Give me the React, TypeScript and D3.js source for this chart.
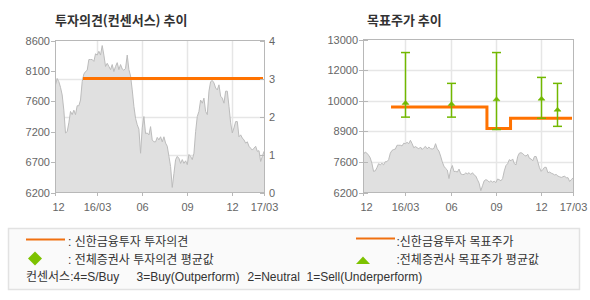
import React from 'react';
import * as d3 from 'd3';

// ---------- DATA ----------
const prices = [
  7900, 8000, 7950, 7860, 7740, 7500, 7140, 7160, 7300, 7480,
  7430, 7500, 7430, 7570, 7570, 7660, 7950, 8070, 8110, 8130,
  8300, 8300, 8300, 8270, 8390, 8370, 8430, 8370, 8520, 8370,
  8190, 8240, 8190, 8140, 8220, 8110, 8190, 8250, 8140, 8220,
  8150, 8130, 8160, 8370, 8140, 8040, 7820, 7560, 7370, 7270,
  7200, 6820, 7220, 7400, 7130, 7140, 7110, 7240, 7030, 7000,
  7000, 7070, 7030, 7080, 7000, 7080, 6980, 6930, 6770, 6610,
  6280, 6500, 6720, 6770, 6740, 6660, 6720, 6660, 6700, 6640,
  6800, 6770, 6720, 6820, 7160, 7400, 7480, 7660, 7610, 7690,
  7480, 7430, 7800, 7950, 7970, 7930, 7850, 7820, 7900, 7720,
  7690, 7610, 7800, 7800, 7560, 7300, 7140, 7220, 7320, 7320,
  7080, 7110, 7060, 7030, 6980, 7000, 6930, 6900, 6870, 6900,
  6930, 6850, 6860, 6690, 6770, 6850,
];
const periodStart = '2015-12-06';
const periodEnd = '2017-02-05';

const xTickDates = ['2015-12-06', '2016-03-01', '2016-06-01', '2016-09-01', '2016-12-01', '2017-02-05'];
const xTickLabels = ['12', '16/03', '06', '09', '12', '17/03'];

const leftPriceTicks = [6200, 6680, 7160, 7640, 8120, 8600];
const leftPriceLabels = ['6200', '6700', '7200', '7600', '8100', '8600'];
const opinionTicks = [0, 1, 2, 3, 4];

const targetPriceTicks = [6200, 7560, 8920, 10280, 11640, 13000];
const targetPriceLabels = ['6200', '7600', '8900', '10000', '12000', '13000'];

// Shinhan consensus opinion
const opinionDates = ['2016-02-01', '2017-02-03'];
const opinionValues = [3];

// Shinhan target price (step line)
const targetDates = ['2016-02-01', '2016-08-14', '2016-10-01', '2017-02-03'];
const targetValues = [10000, 9050, 9500];

// All brokers target price: high / low / average
const consDates = ['2016-03-01', '2016-06-01', '2016-09-01', '2016-12-01', '2017-01-03'];
const consHigh = [12420, 11050, 12420, 11315, 11050];
const consLow = [9550, 9550, 9000, 9500, 9140];
const consAvg = [10180, 10130, 10340, 10370, 9880];

// ---------- STYLE ----------
const NUM_FONT = '"Liberation Sans", Arial, sans-serif';
const KR_FONT = '"Noto Sans CJK KR", "Liberation Sans", sans-serif';
const MIX_FONT = '"Liberation Sans", "Noto Sans CJK KR", sans-serif';
const ORANGE = '#ff7200';
const GREEN = '#72b800';
const GRID = '#e6e6e6';
const FRAME = '#b8b8b8';
const TICKTXT = '#666666';

const parse = d3.timeParse('%Y-%m-%d');

type Box = { x0: number; x1: number; y0: number; y1: number };

function PriceArea({ box, y }: { box: Box; y: d3.ScaleLinear<number, number> }) {
  const xi = d3.scaleLinear().domain([0, prices.length - 1]).range([box.x0 + 0.5, box.x1 - 1]);
  const area = d3.area<number>().x((_, i) => xi(i)).y0(box.y1).y1((d) => y(d));
  const line = d3.line<number>().x((_, i) => xi(i)).y((d) => y(d));
  return (
    <g>
      <path d={area(prices) || ''} fill="#e0e0e0" />
      <path d={line(prices) || ''} fill="none" stroke="#bcbcbc" strokeWidth={1} />
    </g>
  );
}

function Frame({ box, x, gridY, title, titleX }: { box: Box; x: d3.ScaleTime<number, number>; gridY: number[]; title: string; titleX: number }) {
  return (
    <g>
      <rect x={box.x0} y={box.y0} width={box.x1 - box.x0} height={box.y1 - box.y0} fill="#ffffff" />
      {gridY.map((gy, i) => (
        <line key={'gy' + i} x1={box.x0} x2={box.x1} y1={Math.round(gy) + 0.5} y2={Math.round(gy) + 0.5} stroke={GRID} strokeWidth={1.5} />
      ))}
      {xTickDates.slice(1, -1).map((d, i) => {
        const px = Math.round(x(parse(d)!)) + 0.5;
        return <line key={'gx' + i} x1={px} x2={px} y1={box.y0} y2={box.y1} stroke={GRID} strokeWidth={1.5} />;
      })}
      <text x={titleX} y={25} fontFamily={KR_FONT} fontSize={13} fontWeight="bold" fill="#333333">{title}</text>
    </g>
  );
}

function Border({ box, x }: { box: Box; x: d3.ScaleTime<number, number> }) {
  return (
    <g>
      <rect x={box.x0 + 0.5} y={box.y0 + 0.5} width={box.x1 - box.x0 - 1} height={box.y1 - box.y0 - 1} fill="none" stroke={FRAME} strokeWidth={1} />
      {xTickDates.map((d, i) => {
        const px = Math.round(x(parse(d)!)) + 0.5;
        const lx = i === 0 ? px + 3 : px;
        return (
          <g key={'xt' + i}>
            <line x1={px} x2={px} y1={box.y1} y2={box.y1 + 3} stroke={FRAME} />
            <text x={lx} y={box.y1 + 18} textAnchor="middle" fontFamily={NUM_FONT} fontSize={11} fill={TICKTXT}>{xTickLabels[i]}</text>
          </g>
        );
      })}
    </g>
  );
}

function LeftChart() {
  const box: Box = { x0: 55, x1: 265, y0: 40, y1: 193 };
  const x = d3.scaleTime().domain([parse(periodStart)!, parse(periodEnd)!]).range([box.x0, box.x1 - 1]);
  const yP = d3.scaleLinear().domain([6200, 8600]).range([box.y1 - 0.5, box.y0 + 0.5]);
  const yO = d3.scaleLinear().domain([0, 4]).range([box.y1 - 0.5, box.y0 + 0.5]);
  const gridY = opinionTicks.slice(1, -1).map((t) => yO(t));
  return (
    <g>
      <Frame box={box} x={x} gridY={gridY} title="투자의견(컨센서스) 추이" titleX={55} />
      <PriceArea box={box} y={yP} />
      {opinionValues.map((v, i) => (
        <line key={'op' + i} x1={x(parse(opinionDates[i])!)} x2={x(parse(opinionDates[i + 1])!)} y1={yO(v)} y2={yO(v)} stroke={ORANGE} strokeWidth={3} />
      ))}
      <Border box={box} x={x} />
      {leftPriceTicks.map((t, i) => (
        <g key={'lt' + i}>
          <line x1={box.x0 - 4} x2={box.x0} y1={Math.round(yP(t)) + 0.5} y2={Math.round(yP(t)) + 0.5} stroke={FRAME} />
          <text x={box.x0 - 5} y={yP(t) + 4} textAnchor="end" fontFamily={NUM_FONT} fontSize={11} fill={TICKTXT}>{leftPriceLabels[i]}</text>
        </g>
      ))}
      {opinionTicks.map((t, i) => (
        <g key={'rt' + i}>
          <line x1={box.x1 - 5} x2={box.x1} y1={Math.round(yO(t)) + 0.5} y2={Math.round(yO(t)) + 0.5} stroke={FRAME} />
          <text x={box.x1 + 4} y={yO(t) + 4} textAnchor="start" fontFamily={NUM_FONT} fontSize={11} fill={TICKTXT}>{t}</text>
        </g>
      ))}
    </g>
  );
}

function RightChart() {
  const box: Box = { x0: 363, x1: 574, y0: 39, y1: 193 };
  const x = d3.scaleTime().domain([parse(periodStart)!, parse(periodEnd)!]).range([box.x0, box.x1 - 1]);
  const y = d3.scaleLinear().domain([6200, 13000]).range([box.y1 - 0.5, box.y0 + 0.5]);
  const gridY = targetPriceTicks.slice(1, -1).map((t) => y(t));
  const stepPts: [number, number][] = [];
  targetValues.forEach((v, i) => {
    stepPts.push([x(parse(targetDates[i])!), y(v)]);
    stepPts.push([x(parse(targetDates[i + 1])!), y(v)]);
  });
  const stepLine = d3.line();
  return (
    <g>
      <Frame box={box} x={x} gridY={gridY} title="목표주가 추이" titleX={367} />
      <PriceArea box={box} y={y} />
      <path d={stepLine(stepPts) || ''} fill="none" stroke={ORANGE} strokeWidth={3} strokeLinejoin="miter" />
      {consDates.map((d, i) => {
        const cx = Math.round(x(parse(d)!)) + 0.5;
        const yh = y(consHigh[i]);
        const yl = y(consLow[i]);
        const ya = y(consAvg[i]);
        return (
          <g key={'cb' + i} stroke={GREEN} strokeWidth={1.5}>
            <line x1={cx} x2={cx} y1={yh} y2={yl} />
            <line x1={cx - 4.5} x2={cx + 4.5} y1={yh} y2={yh} />
            <line x1={cx - 4.5} x2={cx + 4.5} y1={yl} y2={yl} />
            <path d={`M${cx - 3.5},${ya + 1.5}L${cx},${ya - 2.5}L${cx + 3.5},${ya + 1.5}Z`} fill={GREEN} strokeWidth={0.5} />
          </g>
        );
      })}
      <Border box={box} x={x} />
      {targetPriceTicks.map((t, i) => (
        <g key={'tt' + i}>
          <line x1={box.x0 - 4} x2={box.x0 + 5} y1={Math.round(y(t)) + 0.5} y2={Math.round(y(t)) + 0.5} stroke={FRAME} />
          <text x={box.x0 - 5} y={y(t) + 4} textAnchor="end" fontFamily={NUM_FONT} fontSize={11} fill={TICKTXT}>{targetPriceLabels[i]}</text>
        </g>
      ))}
    </g>
  );
}

function Legend() {
  const LEG_ORANGE = '#f07010';
  const LEG_GREEN = '#7dc200';
  return (
    <g>
      <rect x={8.5} y={228.5} width={571} height={61} fill="#fafafa" stroke="#e2e2e2" strokeWidth={1.5} />
      <line x1={26} x2={65} y1={239.5} y2={239.5} stroke={LEG_ORANGE} strokeWidth={2} />
      <text x={68} y={246} fontFamily={MIX_FONT} fontSize={12} fill="#333">: 신한금융투자 투자의견</text>
      <path d="M35,251.5L42,258.5L35,265.5L28,258.5Z" fill={LEG_GREEN} />
      <text x={68} y={263.5} fontFamily={MIX_FONT} fontSize={12} fill="#333">: 전체증권사 투자의견 평균값</text>
      <text x={26} y={280.5} fontFamily={MIX_FONT} fontSize={12} fill="#333">컨센서스:4=S/Buy</text>
      <text x={136.5} y={280.5} fontFamily={MIX_FONT} fontSize={12} fill="#333">3=Buy(Outperform)</text>
      <text x={247.5} y={280.5} fontFamily={MIX_FONT} fontSize={12} fill="#333">2=Neutral</text>
      <text x={306.5} y={280.5} fontFamily={MIX_FONT} fontSize={12} fill="#333">1=Sell(Underperform)</text>
      <line x1={356} x2={395} y1={238.5} y2={238.5} stroke={LEG_ORANGE} strokeWidth={2} />
      <text x={396.5} y={246} fontFamily={MIX_FONT} fontSize={12} fill="#333">:신한금융투자 목표주가</text>
      <path d="M356,264L363,256.5L370,264Z" fill={LEG_GREEN} />
      <text x={396.5} y={263.5} fontFamily={MIX_FONT} fontSize={12} fill="#333">:전체증권사 목표주가 평균값</text>
    </g>
  );
}

export default function App() {
  return (
    <div style={{ position: 'absolute', left: 0, top: 0, width: 590, height: 300, background: '#ffffff' }}>
      <svg width={590} height={300} style={{ display: 'block' }}>
        <rect width={590} height={300} fill="#ffffff" />
        <LeftChart />
        <RightChart />
        <Legend />
      </svg>
    </div>
  );
}
